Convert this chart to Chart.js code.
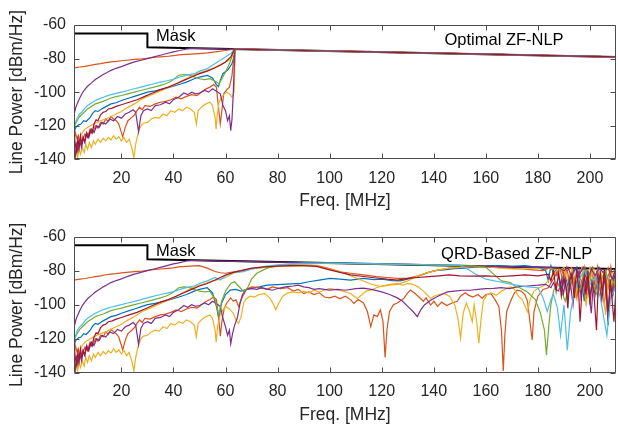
<!DOCTYPE html>
<html><head><meta charset="utf-8">
<script src="https://cdn.jsdelivr.net/npm/chart.js@4.4.1/dist/chart.umd.min.js"></script>
<style>
html,body{margin:0;padding:0;background:#fff;}
#wrap{position:relative;width:618px;height:426px;overflow:hidden;background:#fff;}
#wrap canvas{position:absolute;left:0;}
</style></head><body>
<div id="wrap">
<canvas id="c1" width="618" height="213" style="top:0px"></canvas>
<canvas id="c2" width="618" height="213" style="top:213px"></canvas>
</div>
<script>
// ---------- axes ----------
const xTicks = [20, 40, 60, 80, 100, 120, 140, 160, 180, 200];
const yTicks = [-140, -120, -100, -80, -60];
const xRange = [1.8, 210];
const yRange = [-140, -60];
const xTitle = 'Freq. [MHz]';
const yTitle = 'Line Power [dBm/Hz]';
const topLabel = 'Optimal ZF-NLP';
const botLabel = 'QRD-Based ZF-NLP';
const maskLabel = 'Mask';

// ---------- mask ----------
const maskLine = [[1.8,-65],[30,-65],[30,-73.3],[210,-79]];

// ---------- shared tail of the optimal case (lines sit on the mask) ----------
const topTail = [[64,-74.4],[80,-74.9],[100,-75.5],[120,-76.2],[140,-76.8],[160,-77.4],[180,-78.1],[200,-78.7],[210,-79]];

// ---------- blue ----------
const blueLow = [[1.8,-123.5],[2.5,-121],[3.5,-119.5],[4.5,-119],[5.5,-117],[6.5,-117.5],[8,-115],[9,-112.5],[10,-111],[11,-111.5],[13,-109.5],[16,-107],[18,-106.3],[20,-105],[23,-103.5],[25,-102.5],[28,-101],[30,-100],[33,-99.2],[35,-98.5],[38,-97.3],[40,-96.5],[43,-95],[45,-94],[48,-92],[50,-91],[53,-90]];
const blueTopEnd = [[55,-91.5],[56.5,-95.5],[57.3,-96.7],[58,-93],[59,-89],[61,-86.5],[62.5,-83],[64,-74.4]];
const blueBot = [[55,-93],[56.5,-101],[57.4,-108],[58.5,-99],[60,-94],[61.8,-91.4],[64,-91],[66,-92],[69.5,-90.4],[73,-89.5],[76,-88.5],[80,-88.2],[85,-87.8],[89,-87.5],[92,-86.5],[96,-85.5],[100,-84.5],[104,-85],[108,-85.5],[113,-84.5],[117,-85.3],[120,-85],[124,-85.8],[127,-86],[130,-85],[133.7,-83.4],[136,-82],[138.8,-80.5],[141,-79.8],[144,-79.5],[148,-78.8],[152,-78.5],[158,-77.5],[165,-77],[170,-77.5],[175,-77],[180,-78],[183,-80],[184,-86],[185,-77],[186,-82],[187,-79],[188,-84],[189,-91],[190,-80],[191,-86],[192,-92],[193,-85],[194,-80],[195,-78],[196,-90],[197,-88],[197.8,-98],[198.5,-80],[199.3,-86],[200,-95],[201,-84],[202,-89],[203,-78],[204,-84],[205,-90],[206,-80],[207,-112],[207.8,-86],[208.5,-95],[209.3,-80],[210,-84]];

// ---------- orange (upper) ----------
const orangeHiLow = [[1.8,-85.5],[4,-85],[6,-84.6],[8,-84],[10,-83.5],[12,-83],[14,-82.4],[16,-82],[18,-81.7],[20,-81.3],[22,-81],[25,-80.5],[28,-80.2],[30,-79.8],[33,-79.2],[35,-79],[38,-78.6],[40,-78.3],[42,-77.8],[45,-77.5],[48,-77.2],[50,-77]];
const orangeHiTopEnd = [[53,-76.6],[56,-76],[60,-75.2],[63,-74.4]];
const orangeHiBot = [[53,-78.5],[56,-80.5],[58,-81.2],[60,-81.5],[62,-81],[64,-80.5],[66,-80],[68,-79.4],[72,-78.5],[76,-77.8],[82,-77.3],[88,-77],[92.6,-76.8],[96,-77.3],[100,-78.8],[104,-80.7],[108,-81.5],[113,-82.5],[118,-83.5],[122,-84],[126,-84.5],[130,-84.5],[134,-83],[138,-81],[142,-79.5],[146,-78.5],[150,-78],[156,-77.6],[162,-77.8],[168,-78.5],[174,-79],[178,-79.5],[182,-80],[185,-78],[187,-83],[188.5,-79],[190,-88],[191,-80],[193,-78],[194.5,-92],[195.5,-81],[197,-79],[198.5,-98],[199.5,-84],[201,-78],[202.5,-89],[204,-80],[205.5,-100],[206.5,-85],[208,-79],[209,-93],[210,-83]];

// ---------- yellow (upper) ----------
const yellowHiLow = [[1.8,-139],[2.5,-134],[3,-137],[3.5,-130],[4,-127],[5,-124],[6,-122],[7,-121],[8,-120],[10,-118.5],[12,-117],[14,-116],[16,-114.5],[18,-113],[20,-111.5],[22,-109.5],[25,-107],[28,-104],[31,-102],[34,-100],[37,-98],[40,-96],[43,-93.5],[46,-91],[49,-89],[52,-87.5],[55,-86]];
const yellowHiTopEnd = [[58,-83.5],[60,-82],[62,-80.5],[63.5,-74.4]];
const yellowHiBot = [[58,-85],[60,-84],[63,-81.5],[66,-80.5],[70,-79],[75,-78],[80,-77.5],[90,-77],[95,-77.3],[100,-79],[104,-80.5],[108,-83],[112,-85.5],[116,-88],[119.6,-89.4],[123,-88.5],[126,-88],[130,-86],[134,-83],[138,-81],[142,-79.5],[146,-78.5],[150,-78],[155,-77.5],[160,-77.5],[165,-78.5],[170,-79],[175,-79],[180,-78.5],[183,-78],[186,-79],[188,-80],[190,-78],[192,-85],[193,-79],[195,-90],[196,-80],[198,-86],[200,-78],[202,-92],[203,-80],[205,-85],[207,-78],[209,-88],[210,-80]];

// ---------- purple (upper) ----------
const purpleHiLow = [[1.8,-113.5],[2.5,-109],[3,-107],[4,-103.5],[5,-100.5],[6,-98.3],[7,-96.5],[8.5,-94.5],[10,-92.5],[11.5,-91],[13,-89.5],[14.5,-88.3],[16,-87],[18,-85.8],[20,-84.8],[22.5,-83.3],[25,-82],[27.5,-81],[30,-80],[32.5,-79],[35,-78],[37.5,-77],[40,-76],[42.5,-75.2],[45,-74.3],[47,-73.9],[50,-74]];
const purpleHiTopEnd = [[55,-74.1],[60,-74.3]];
const purpleHiBot = [[55,-74.2],[64,-74.5],[80,-75],[100,-75.6],[120,-76.2],[140,-76.8],[160,-77.4],[180,-78],[188,-78.3],[190,-80],[191.5,-77.8],[193,-84],[194,-78.5],[196,-82],[197.5,-78],[199,-86],[200.5,-79],[202,-83],[203.5,-78],[205,-81],[207,-78.5],[208.5,-85],[210,-79]];

// ---------- green ----------
const greenLow = [[1.8,-121],[2.5,-118.5],[3,-117],[4,-114.5],[5,-113],[6,-111.5],[7,-110],[8.5,-108.5],[10,-107],[11.5,-106.2],[13,-105.5],[14.5,-104.5],[16,-103.5],[18,-102.7],[20,-102],[22.5,-101],[25,-100],[27.5,-99],[30,-98],[32.5,-97],[35,-96],[37,-95],[38.5,-94],[40,-92.5],[42,-90],[44,-89.5],[46,-89.8],[48,-91],[50,-92],[52,-92.5],[54,-92]];
const greenTopEnd = [[56,-93.5],[57.5,-95],[59,-91],[60,-88],[61.5,-83],[63.5,-74.4]];
const greenBot = [[56,-97],[57.4,-106],[58.5,-98],[60,-92],[62,-87.5],[63.5,-86.5],[65,-89],[67,-92.3],[68.5,-90],[70,-85],[72,-81.5],[76,-78.5],[80,-77],[85,-76.3],[100,-75.6],[120,-76.2],[140,-76.8],[155,-77.2],[160,-78],[163,-82],[166,-86],[169.5,-87],[171,-89],[173,-90],[176,-92.5],[179,-97],[181,-105],[182.5,-115],[183.3,-129.6],[184.2,-112],[185,-100],[186,-92],[187.4,-86.5],[189,-92],[190.5,-98],[192,-88],[194,-84],[196,-92],[198,-82],[199,-79.7],[201,-88],[203,-95],[204,-86],[206,-80],[208,-90],[210,-84]];

// ---------- light blue ----------
const lightBlueLow = [[1.8,-120],[2.5,-117.5],[3,-115.5],[4,-113],[5,-111.5],[6,-109.5],[7,-108],[8.5,-106.5],[10,-105],[11.5,-104],[13,-103],[14.5,-102.2],[16,-101.5],[18,-100.7],[20,-100],[22.5,-99],[25,-98],[27.5,-97],[30,-96],[32.5,-95],[35,-94],[37.5,-93.2],[40,-92.3],[42.5,-91],[45,-90],[48,-89],[50,-87.5],[53,-86]];
const lightBlueTopEnd = [[56,-83],[58,-81],[60,-79],[62,-77],[63.5,-74.4]];
const lightBlueBot = [[56,-84],[58,-85.5],[60,-83],[63,-81],[67,-80.5],[70,-79],[75,-77.5],[80,-76.5],[90,-75.5],[100,-75.5],[120,-76],[140,-76.5],[150,-76.7],[153,-79],[156,-82],[160,-85],[165,-86.5],[170,-88],[176,-89.5],[180,-90],[182,-96],[183.6,-104],[185,-97],[186,-94],[187.5,-102],[188.7,-118],[190,-100],[191.3,-126.7],[192.5,-105],[194,-92],[196,-85],[198,-80],[200,-88],[202,-84],[204,-96],[206.5,-118],[208,-95],[210,-90]];

// ---------- dark red ----------
const darkRedLow = [[1.8,-125],[2.3,-131],[2.8,-135],[3.3,-128],[3.8,-133],[4.3,-126],[4.8,-131],[5.3,-127],[5.8,-129.5],[6.5,-125],[7.2,-127],[8,-123],[8.7,-124.5],[9.5,-119],[10.3,-116.5],[11,-117],[12,-113.5],[13,-112],[14,-111.5],[15,-110],[16.5,-109.5],[18,-108.5],[20,-107.5],[23,-106],[26,-104.5],[29,-102.5],[32,-100.5],[35,-98.5],[38,-97],[41,-95],[44,-93],[47,-91],[50,-89],[53,-87.5],[56,-85.5]];
const darkRedTopEnd = [[58,-84],[60,-82],[62,-79],[63.5,-74.4]];
const darkRedBot = [[58,-84],[60,-82.5],[63,-81],[66,-80],[70,-78.5],[75,-77.8],[80,-77.3],[85,-77],[90,-77],[95,-77.5],[100,-79.5],[104,-81],[108,-82.5],[113,-83.4],[118,-84.3],[122,-85],[126,-85.5],[130,-84.5],[134,-84],[138,-83.5],[142,-83],[146,-82.5],[150,-83],[155,-83.2],[160,-83],[165,-83.4],[170,-83],[175,-82.5],[180,-83],[184,-82],[185,-86],[186,-80],[187,-92],[188,-81],[189,-95],[190,-84],[190.8,-90],[191.5,-102],[192.2,-86],[193,-82],[194,-96],[194.8,-80],[195.5,-88],[196.2,-110],[197,-90],[197.8,-83],[198.5,-94],[199.2,-80],[200,-100],[200.8,-87],[201.5,-93],[202.5,-115],[203.2,-88],[204,-82],[204.8,-95],[205.5,-79],[206.3,-92],[207,-104],[207.8,-85],[208.5,-97],[209.2,-110],[210,-90]];

// ---------- orange (lower, noisy) ----------
const orangeLoLow = [[1.8,-132],[2.3,-124],[3,-128],[3.5,-126],[4,-131],[5,-129],[6,-125],[7,-127],[8,-122],[9,-124],[10,-120],[11,-121.5],[12,-118],[13,-119],[14,-116],[15,-117.5],[16,-114.5],[17,-116],[18,-117],[19,-119],[20,-124],[20.5,-126.5],[21.5,-121],[22.5,-117],[24,-115],[25,-113.5],[26,-111],[27,-109],[28,-110.5],[29,-108],[31,-108.5],[33,-107],[35,-106],[37,-105.5],[39,-104.5],[41,-103],[43,-104],[45,-102.5],[47,-101.5],[49,-102],[50,-101],[52,-98.5],[54,-97],[55.5,-95.5],[56.5,-97]];
const orangeLoTopEnd = [[57.5,-112],[58,-119],[58.6,-111],[59.3,-101],[60.5,-98.5],[61.5,-97],[62.5,-90],[63.5,-74.4]];
const orangeLoBot = [[57.5,-110],[58,-118.5],[58.6,-110],[59.5,-102],[60.5,-99],[62,-96],[63,-98],[64,-97],[65,-101],[66,-97],[67,-94],[68,-91],[70,-89.5],[73,-90],[76,-91],[78,-89.5],[81,-90.5],[84,-90],[86,-92],[88,-91],[90,-93.5],[92,-92.5],[94,-94],[96,-93],[98,-95.5],[100,-96],[102,-95],[104,-96.5],[106,-95],[108,-97],[109.3,-99.2],[111,-97],[113,-99],[114.5,-104],[115.8,-113],[117,-106],[118.3,-107],[119.5,-103],[120.5,-110],[121.3,-131],[122,-115],[123,-104],[124.5,-100],[126,-99],[128.5,-96.3],[130,-93],[131,-91.4],[132.5,-93],[134,-95],[136,-98],[137,-96],[138.8,-100.2],[140,-98],[141.5,-101],[143,-98.5],[145,-100.5],[147,-99],[149,-98],[150.3,-95],[152,-93],[153.5,-94.5],[155,-95.5],[157,-94],[158.6,-96.3],[160,-94],[162,-93.5],[163.5,-97],[165,-101],[166,-115],[166.7,-139],[167.3,-118],[168,-104],[169.5,-98],[171,-93],[172,-91.4],[173.5,-92],[175,-94],[176,-98],[177.8,-120.8],[178.5,-104],[180,-95],[182,-91],[184,-90],[185.5,-86],[187.4,-80.7],[189,-79],[190,-83],[191,-78],[192.5,-90],[193.5,-80],[195,-96],[196,-82],[197,-88],[198,-78],[199.5,-92],[200.5,-80],[202,-88],[203,-78],[204.5,-98],[205.5,-82],[207,-90],[208,-78],[209,-92],[210,-82]];

// ---------- purple (lower, noisy) ----------
const purpleLoLow = [[1.8,-133],[2.3,-138],[2.8,-131],[3.3,-135],[4,-129],[4.7,-133],[5.3,-127],[6,-130],[6.7,-124],[7.5,-127],[8.5,-122],[9.5,-124],[10.5,-120],[11.5,-121],[12.5,-118],[14,-119],[15.5,-116],[17,-117],[18.5,-114.5],[20,-115.5],[21.5,-113],[23,-112],[24.5,-110.5],[25.5,-112],[26.6,-123.5],[27.5,-114],[28.5,-111],[30,-110],[31.5,-111],[33,-108],[35,-107.5],[37,-106],[38.5,-107],[40,-104.5],[42,-103],[44,-100.5],[45.5,-101.5],[47,-100],[48.5,-101],[50,-100.5],[52,-99],[53.5,-100],[55,-98],[56.5,-99.5],[58,-101]];
const purpleLoTopEnd = [[59,-108],[60,-111],[60.8,-117],[61.5,-114],[62,-123],[62.5,-116],[63,-100],[63.6,-74.4]];
const purpleLoBot = [[59,-108],[60,-113],[60.8,-118],[61.5,-115],[62,-123],[62.7,-117],[63.5,-112],[64.5,-108],[65.5,-100],[66.5,-94],[68,-91],[70,-90.5],[72,-91],[74,-90],[76,-90.8],[78,-91.5],[80,-90.5],[83,-89.5],[86,-89],[88,-88.5],[90,-89.5],[92,-90],[94,-91],[96,-90.5],[98,-91],[100,-91.4],[103,-91],[106,-91.5],[110,-90.5],[113,-90.2],[116,-91],[120,-92.5],[123,-94],[126,-96],[128,-98],[130,-101],[132,-104],[133.7,-107],[135,-103],[136.5,-100],[138.8,-97.4],[141,-95.5],[143,-94],[145.2,-92.5],[148,-92],[151,-91.5],[154,-91.5],[157,-91],[160,-90.5],[163,-90.4],[166,-90],[169,-90.5],[172,-89.5],[176,-89],[180,-88.5],[183,-88],[185,-90],[186,-87],[187,-91],[188,-92],[189,-85],[189.8,-94],[190.6,-86],[191.3,-97],[192,-84],[192.8,-91],[193.5,-100],[194.3,-86],[195,-88],[195.8,-80],[196.5,-95],[197.3,-86],[198,-93],[199,-85],[199.8,-96],[200.5,-105],[201.3,-88],[202,-94],[203,-82],[203.8,-90],[204.5,-97],[205.3,-84],[206,-90],[207,-110],[207.8,-88],[208.5,-95],[209.3,-83],[210,-86]];

// ---------- yellow (lower, noisy) ----------
const yellowLoLow = [[1.8,-138],[2.2,-140],[2.7,-136],[3.2,-139],[3.7,-134],[4.3,-137],[5,-133],[5.7,-136],[6.3,-131],[7,-134],[7.7,-130],[8.5,-133],[9.3,-129],[10,-131],[11,-128],[12,-130],[13,-127.5],[14,-129],[15,-127],[16,-128.5],[17,-126],[18,-128],[19,-126.5],[20,-129],[21,-127],[22,-130],[23,-128],[24,-133],[24.8,-139],[25.5,-131],[26.5,-124],[27.5,-120],[28.5,-118.5],[30,-118],[31.5,-116],[33,-115],[34.5,-115.5],[36,-113],[37.5,-114],[39,-111],[40.5,-112],[42,-110],[43.5,-111],[45,-109],[46.5,-110],[48,-112],[48.8,-119],[49.5,-111],[51,-108.5],[52.5,-107],[54,-106],[55,-108]];
const yellowLoTopEnd = [[56,-115],[56.4,-122],[56.8,-114],[57.5,-106],[58.5,-103],[59.5,-101],[60.5,-100],[61.5,-101],[62.5,-103],[63.3,-100],[63.8,-74.4]];
const yellowLoBot = [[56,-115],[56.4,-122],[57,-112],[58,-106],[59,-103],[60,-101],[61.5,-102.5],[63,-105],[64,-109],[65,-111],[66,-107],[67,-99],[68,-96.5],[69.5,-95],[71,-95.5],[73,-94],[75,-93.5],[77,-96],[78.5,-100],[79.3,-103],[80.5,-99],[82,-95],[84,-93],[86,-92.5],[88,-93],[90,-92],[92,-93],[94,-91.5],[96,-92.5],[98,-91.5],[100,-90.4],[102,-91],[104,-91.5],[106,-92.5],[108,-93.4],[110.6,-96.3],[112.5,-94],[114,-92],[115.8,-91.4],[118,-90],[120,-89],[123,-88],[126,-87.5],[128,-88.5],[130,-87.5],[132,-88],[134,-89.5],[136,-92],[138.8,-96.3],[140,-95],[142,-94],[144,-93.5],[146,-95],[148,-100],[149.3,-108],[150.3,-119.8],[151.3,-105],[152.5,-99],[153.5,-103],[154.8,-110],[155.5,-100],[156.5,-110],[157.3,-122.7],[158.2,-108],[159,-98],[160.5,-94],[162,-93],[164,-94.5],[166,-92],[168,-90.5],[169.5,-89.4],[171,-91],[172.5,-95],[174,-97],[176,-104.2],[177,-97],[178.5,-92],[180,-90.5],[182,-89],[184,-86],[186,-82],[188,-79],[190,-80],[192,-88],[193,-80],[194.5,-95],[196,-82],[197,-78],[198.5,-100],[200,-85],[201.5,-79],[203,-94],[204.5,-83],[206,-106],[207,-86],[209,-80],[210,-92]];

// ---------- styling (kept apart from the values) ----------
const FONT = "'Liberation Sans', Arial, Helvetica, sans-serif";
const TEXT_COLOR = '#262626';
const FRAME_COLOR = '#4d4d4d';
const LINE_W = 1.2;
const series = [
  { color: '#A2142F', low: darkRedLow,   topEnd: darkRedTopEnd,   bot: darkRedBot },
  { color: '#4DBEEE', low: lightBlueLow, topEnd: lightBlueTopEnd, bot: lightBlueBot },
  { color: '#77AC30', low: greenLow,     topEnd: greenTopEnd,     bot: greenBot },
  { color: '#7E2F8E', low: purpleHiLow,  topEnd: purpleHiTopEnd,  bot: purpleHiBot },
  { color: '#7E2F8E', low: purpleLoLow,  topEnd: purpleLoTopEnd,  bot: purpleLoBot },
  { color: '#EDB120', low: yellowHiLow,  topEnd: yellowHiTopEnd,  bot: yellowHiBot },
  { color: '#EDB120', low: yellowLoLow,  topEnd: yellowLoTopEnd,  bot: yellowLoBot },
  { color: '#D95319', low: orangeHiLow,  topEnd: orangeHiTopEnd,  bot: orangeHiBot },
  { color: '#D95319', low: orangeLoLow,  topEnd: orangeLoTopEnd,  bot: orangeLoBot },
  { color: '#0072BD', low: blueLow,      topEnd: blueTopEnd,      bot: blueBot }
];

function lineDs(data, color, width) {
  return { data: data, borderColor: color, backgroundColor: color, borderWidth: width,
           pointRadius: 0, tension: 0, fill: false };
}

const topSets = series.map(s => lineDs(s.low.concat(s.topEnd, topTail), s.color, LINE_W));
topSets.push(lineDs(maskLine, '#000000', 2));
const botSets = series.map(s => lineDs(s.low.concat(s.bot), s.color, LINE_W));
botSets.push(lineDs(maskLine, '#000000', 2));

function framePlugin(notes) {
  return {
    id: 'frame',
    afterDraw(chart) {
      const ctx = chart.ctx, a = chart.chartArea, x = chart.scales.x, y = chart.scales.y;
      ctx.save();
      ctx.strokeStyle = FRAME_COLOR;
      ctx.lineWidth = 1;
      const L = Math.round(a.left) + 0.5, R = Math.round(a.right) - 0.5;
      const T = Math.round(a.top) + 0.5, B = Math.round(a.bottom) - 0.5;
      ctx.beginPath();
      ctx.rect(L, T, R - L, B - T);
      xTicks.forEach(v => {
        const p = Math.round(x.getPixelForValue(v)) + 0.5;
        ctx.moveTo(p, B); ctx.lineTo(p, B - 5);
        ctx.moveTo(p, T); ctx.lineTo(p, T + 5);
      });
      yTicks.forEach(v => {
        const p = Math.round(y.getPixelForValue(v)) + 0.5;
        ctx.moveTo(L, p); ctx.lineTo(L + 5, p);
        ctx.moveTo(R, p); ctx.lineTo(R - 5, p);
      });
      ctx.stroke();
      ctx.fillStyle = '#000';
      ctx.font = '16.5px ' + FONT;
      ctx.textAlign = 'left';
      ctx.textBaseline = 'alphabetic';
      notes.forEach(n => ctx.fillText(n.text, x.getPixelForValue(n.x), y.getPixelForValue(n.y)));
      ctx.restore();
    }
  };
}

function makeChart(id, datasets, padTop, xHeight, titlePadBottom, notes) {
  return new Chart(document.getElementById(id), {
    type: 'line',
    data: { datasets: datasets },
    options: {
      responsive: false, animation: false, devicePixelRatio: 1,
      layout: { padding: { top: padTop, right: 2, left: 0, bottom: 0 } },
      plugins: { legend: { display: false }, tooltip: { enabled: false } },
      scales: {
        x: {
          type: 'linear', min: xRange[0], max: xRange[1],
          afterBuildTicks: s => { s.ticks = xTicks.map(v => ({ value: v })); },
          afterFit: s => { s.height = xHeight; },
          grid: { display: false, drawTicks: false }, border: { display: false },
          ticks: { padding: 9.5, color: TEXT_COLOR, maxRotation: 0, autoSkip: false,
                   font: { family: FONT, size: 16 }, callback: v => String(v) },
          title: { display: true, text: xTitle, color: TEXT_COLOR,
                   font: { family: FONT, size: 17.5 }, padding: { top: 0, bottom: titlePadBottom } }
        },
        y: {
          type: 'linear', min: yRange[0], max: yRange[1],
          afterBuildTicks: s => { s.ticks = yTicks.map(v => ({ value: v })); },
          afterFit: s => { s.width = 74; },
          grid: { display: false, drawTicks: false }, border: { display: false },
          ticks: { padding: 8, color: TEXT_COLOR, font: { family: FONT, size: 16 }, callback: v => String(v) },
          title: { display: true, text: yTitle, color: TEXT_COLOR,
                   font: { family: FONT, size: 17.5 }, padding: { top: 7, bottom: 0 } }
        }
      }
    },
    plugins: [framePlugin(notes)]
  });
}

makeChart('c1', topSets, 25, 53.7, 1, [
  { text: maskLabel, x: 33.3, y: -69.3 },
  { text: topLabel, x: 144.1, y: -72.2 }
]);
makeChart('c2', botSets, 23.7, 53.3, 0.5, [
  { text: maskLabel, x: 33.3, y: -71.2 },
  { text: botLabel, x: 142.8, y: -73.3 }
]);
</script>
</body></html>
